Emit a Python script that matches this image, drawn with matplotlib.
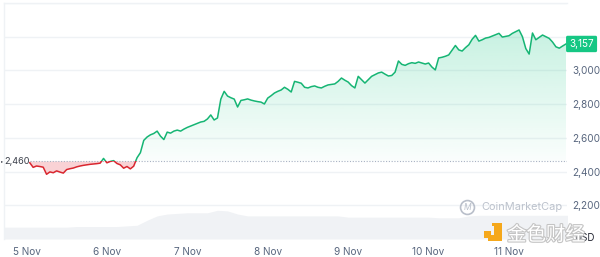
import numpy as np
import matplotlib
matplotlib.use('Agg')
import matplotlib.pyplot as plt
import matplotlib.patheffects as pe
from matplotlib.patches import Rectangle, Polygon
from matplotlib.lines import Line2D
from matplotlib.transforms import blended_transform_factory

# hourly ETH price, starting 5 Nov 01:00
price = [
    # 5 Nov
    2452, 2425, 2433, 2430, 2426, 2384, 2398, 2393, 2404, 2397, 2391, 2412,
    2417, 2421, 2428, 2433, 2437, 2440, 2443, 2445, 2447, 2450, 2478,
    # 6 Nov
    2452, 2460, 2465, 2448, 2440, 2420, 2430, 2416, 2432, 2482, 2512, 2585,
    2605, 2618, 2626, 2640, 2610, 2590, 2634, 2628, 2640, 2646, 2640, 2652,
    # 7 Nov
    2662, 2670, 2678, 2686, 2694, 2698, 2712, 2736, 2706, 2718, 2830, 2876,
    2848, 2838, 2830, 2783, 2822, 2826, 2831, 2824, 2819, 2815, 2812, 2801,
    # 8 Nov
    2836, 2850, 2866, 2876, 2884, 2900, 2888, 2872, 2935, 2930, 2924, 2900,
    2896, 2904, 2908, 2900, 2896, 2906, 2914, 2917, 2920, 2935, 2955, 2942,
    # 9 Nov
    2931, 2910, 2896, 2965, 2945, 2925, 2945, 2965, 2975, 2985, 2990, 2978,
    2967, 2970, 2990, 3056, 3036, 3030, 3040, 3046, 3042, 3050, 3044, 3038,
    # 10 Nov
    3044, 3020, 3003, 3074, 3078, 3084, 3092, 3120, 3148, 3122, 3115, 3135,
    3152, 3185, 3208, 3174, 3182, 3192, 3196, 3204, 3212, 3220, 3198, 3202,
    # 11 Nov
    3206, 3220, 3230, 3240, 3200, 3130, 3097, 3222, 3182, 3196, 3210, 3200,
    3190, 3168, 3140, 3132, 3145, 3157,
]
hours = np.arange(1, len(price) + 1)
price = np.array(price, dtype=float)
base_price = 2460
last_price = 3157

# 3-hourly volume (bn USD), starting 4 Nov 15:00
volume = [19, 19, 19, 19, 19, 19, 19, 19, 20, 20, 20, 20, 20, 21, 22, 30,
          37, 40, 41, 42, 42, 42, 46, 45, 40, 37, 37, 37, 37, 37, 37, 37,
          37, 37, 37, 35, 35, 35, 35, 35, 35, 35, 35, 35, 34, 34, 34, 37,
          38, 38, 38, 38, 38, 38, 38, 38, 38, 38]
vol_hours = np.arange(-9, -9 + 3 * len(volume), 3)

day_ticks = [0, 24, 48, 72, 96, 120, 144]
day_labels = ['5 Nov', '6 Nov', '7 Nov', '8 Nov', '9 Nov', '10 Nov', '11 Nov']
grid_levels = [2200, 2400, 2600, 2800, 3000, 3200, 3400]
y_labels = ['2,200', '2,400', '2,600', '2,800', '3,000', '', '']

green = '#16b574'
red = '#d9262f'
label_grey = '#58667e'

plt.rcParams['font.family'] = ['Inter', 'DejaVu Sans']

fig = plt.figure(figsize=(6, 2.57), dpi=100)
pos = [4 / 600, 18 / 257, 563 / 600, 236 / 257]
xlim = (-6.7, 161.3)

# volume in the back
axv = fig.add_axes(pos)
axv.fill_between(vol_hours, volume, 0, color='#f0f2f5', lw=0)
axv.set_xlim(*xlim)
axv.set_ylim(0, 378)
axv.axis('off')

ax = fig.add_axes(pos)
ax.set_zorder(axv.get_zorder() + 1)
ax.patch.set_visible(False)
ax.set_xlim(*xlim)
ax.set_ylim(2000, 3400)

for lv in grid_levels:
    ax.axhline(lv, color='#eff2f5', lw=1, zorder=0)

# gradient fill above the base price
top = price.max()
grad = np.zeros((200, 1, 4))
grad[:, 0, 0] = 22 / 255
grad[:, 0, 1] = 199 / 255
grad[:, 0, 2] = 132 / 255
grad[:, 0, 3] = np.linspace(0.02, 0.24, 200)
img = ax.imshow(grad, extent=[hours[0], hours[-1], base_price, top],
                origin='lower', aspect='auto', zorder=1)
verts = list(zip(hours, np.maximum(price, base_price)))
verts += [(hours[-1], base_price), (hours[0], base_price)]
clip_poly = Polygon(verts, closed=True, transform=ax.transData)
img.set_clip_path(clip_poly)

ax.fill_between(hours, price, base_price, where=price < base_price,
                interpolate=True, color='#f9d2d5', lw=0, zorder=1)

ax.hlines(base_price, hours[0], xlim[1], colors='#a7b1c2', lw=0.8,
          linestyles=(0, (1, 1.5)), zorder=2)

up, = ax.plot(hours, price, color=green, lw=1.1, zorder=3)
dn, = ax.plot(hours, price, color=red, lw=1.1, zorder=3)
up.set_clip_path(Rectangle((xlim[0], base_price), xlim[1] - xlim[0], 2000,
                           transform=ax.transData))
dn.set_clip_path(Rectangle((xlim[0], 1000), xlim[1] - xlim[0],
                           base_price - 1000, transform=ax.transData))

ax.set_xticks(day_ticks)
ax.set_xticklabels(day_labels)
ax.yaxis.tick_right()
ax.set_yticks(grid_levels)
ax.set_yticklabels(y_labels)
ax.tick_params(axis='x', length=0, pad=6, labelsize=7.2, colors=label_grey)
ax.tick_params(axis='y', length=0, pad=4, labelsize=7.2, colors=label_grey)

for side in ['right', 'bottom']:
    ax.spines[side].set_visible(False)
for side in ['left', 'top']:
    ax.spines[side].set_color('#eff2f5')
    ax.spines[side].set_linewidth(1)

bt = blended_transform_factory(ax.transAxes, ax.transData)
ax.text(1.004, last_price, f'{last_price:,}', transform=bt, ha='left',
        va='center', fontsize=7.2, color='white', zorder=5,
        bbox=dict(boxstyle='round,pad=0.32,rounding_size=0.15',
                  fc='#16c784', ec='none'))
ax.text(1.0, base_price, f'{base_price:,}', ha='right', va='center',
        fontsize=6.6, color='#3a3f4a', zorder=5)
fig.text(0.5 / 600, 1 - 161 / 257, '▸', ha='left', va='center', fontsize=3.2,
         color='#3a3f4a', family='DejaVu Sans')
ax.text(1.012, 2008, 'USD', transform=bt, ha='left', va='center',
        fontsize=7, color='#222531', zorder=5)

# watermarks
fig.add_artist(Line2D([467 / 600], [1 - 207 / 257], marker='o',
                      markersize=10, mfc='none', mec='#b9bfca', mew=1.2,
                      transform=fig.transFigure))
fig.text(467 / 600, 1 - 207 / 257, 'M', ha='center', va='center',
         fontsize=6, color='#b9bfca', style='italic')
fig.text(481 / 600, 1 - 207 / 257, 'CoinMarketCap', ha='left', va='center',
         fontsize=7.9, color='#bcc2cc')


def px_rect(x0, y0, x1, y1, color):
    fig.add_artist(Rectangle((x0 / 600, 1 - y1 / 257), (x1 - x0) / 600,
                             (y1 - y0) / 257, transform=fig.transFigure,
                             color=color, lw=0))


orange = '#f5a81c'
px_rect(484, 231, 491, 238, orange)
px_rect(494, 223, 502, 241, orange)
px_rect(488, 235, 502, 241, orange)
px_rect(492, 223, 499, 226, orange)

fig.text(546 / 600, 1 - 235 / 257, '金色财经', ha='center', va='center',
         fontsize=14, color='white', family=['Noto Sans CJK SC'],
         path_effects=[pe.withStroke(linewidth=1.6, foreground='#c4c4c4')])

fig.savefig('out.png', dpi=100)
